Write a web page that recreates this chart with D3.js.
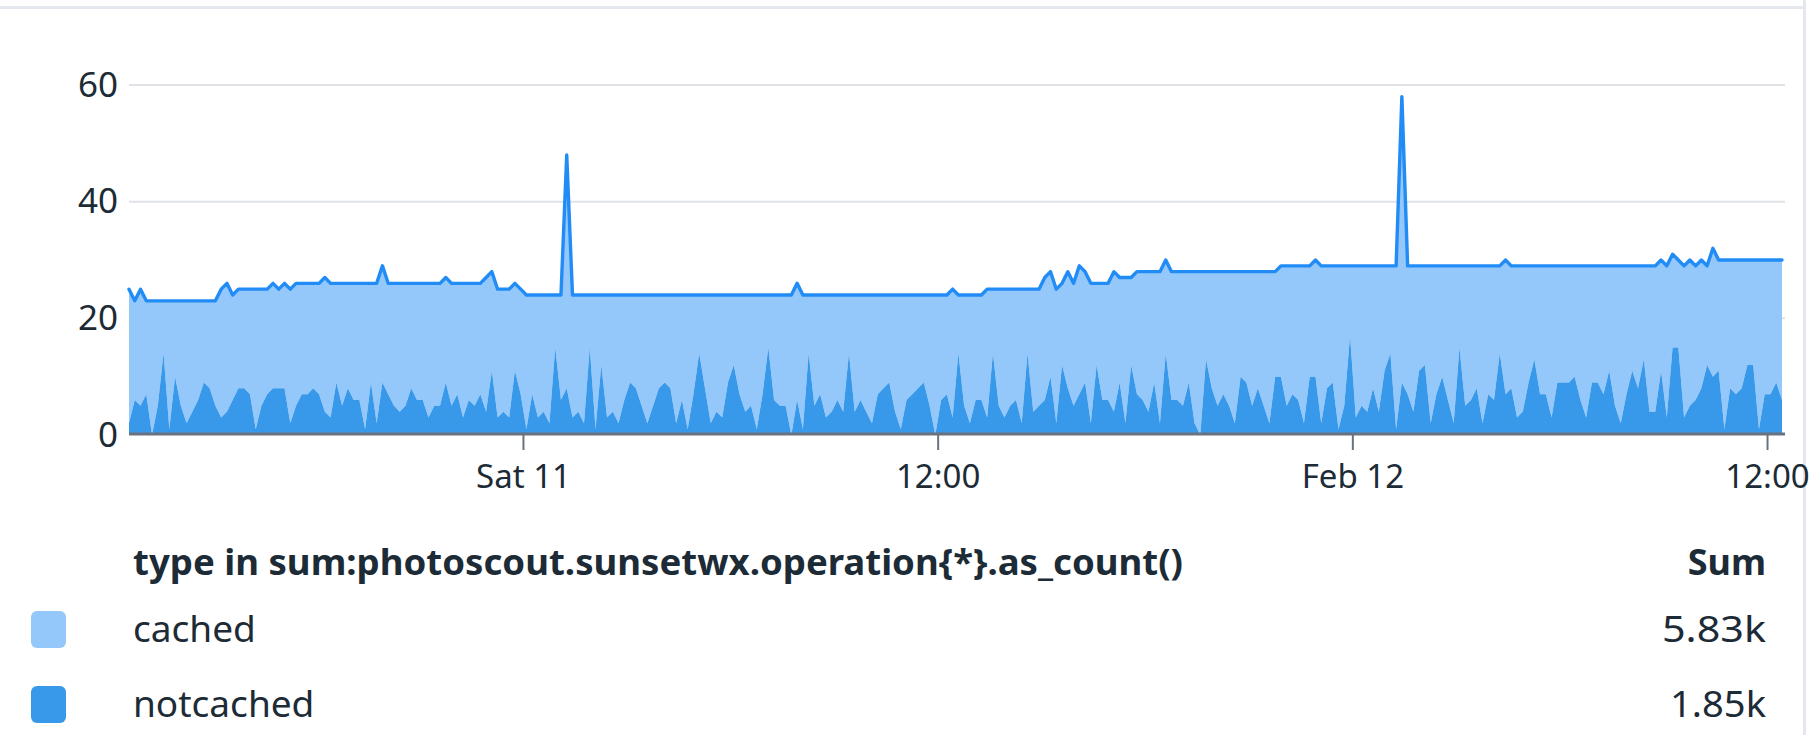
<!DOCTYPE html>
<html>
<head>
<meta charset="utf-8">
<script src="https://cdn.jsdelivr.net/npm/d3@7"></script>
<style>
  body { margin: 0; background: #fff; }
  svg { display: block; font-family: "Noto Sans", "Open Sans", sans-serif; }
</style>
</head>
<body>
<svg id="chart" width="1819" height="735"></svg>
<script>
'use strict';

/* global d3 */
// 10 minute rollups, 12:36 Fri Feb 10 -> 12:26 Sun Feb 12
var startTime = new Date(2017, 1, 10, 12, 36);
var stepMinutes = 10;

var seriesNames = ['cached', 'notcached'];
var legendSums = ['5.83k', '1.85k'];
var legendTitle = 'type in sum:photoscout.sunsetwx.operation{*}.as_count()';
var yTicks = [0, 20, 40, 60];

var cachedValues = [
    23, 17, 20, 16, 23, 18, 9, 22, 13, 18,
    21, 19, 17, 14, 15, 18, 22, 22, 18, 17,
    17, 18, 24, 20, 18, 18, 17, 18, 23, 21,
    19, 19, 18, 19, 23, 23, 17, 21, 18, 20,
    20, 25, 17, 24, 20, 19, 21, 22, 21, 18,
    20, 20, 23, 21, 21, 18, 21, 19, 23, 20,
    21, 19, 23, 17, 22, 21, 22, 15, 18, 23,
    17, 21, 20, 22, 9, 18, 40, 21, 20, 22,
    9, 23, 12, 21, 20, 22, 18, 15, 16, 19,
    22, 19, 16, 15, 16, 22, 18, 23, 17, 10,
    16, 22, 20, 21, 15, 12, 17, 20, 19, 23,
    17, 9, 18, 19, 19, 24, 20, 23, 10, 19,
    17, 21, 20, 18, 20, 10, 20, 18, 20, 22,
    17, 16, 15, 20, 23, 18, 17, 16, 15, 19,
    24, 18, 17, 22, 10, 19, 22, 18, 18, 22,
    11, 20, 22, 20, 19, 23, 11, 21, 20, 21,
    18, 23, 14, 20, 21, 22, 19, 24, 14, 20,
    20, 24, 18, 25, 15, 21, 22, 24, 19, 26,
    16, 22, 22, 23, 19, 26, 28, 15, 20, 23,
    21, 23, 26, 18, 19, 23, 20, 23, 26, 18,
    19, 24, 22, 23, 27, 19, 20, 27, 21, 20,
    28, 24, 12, 26, 24, 25, 21, 25, 18, 15,
    28, 49, 22, 25, 18, 17, 27, 22, 19, 23,
    27, 14, 24, 23, 21, 27, 22, 23, 15, 23,
    21, 26, 25, 20, 16, 22, 22, 26, 20, 20,
    20, 19, 23, 26, 20, 20, 22, 18, 24, 27,
    22, 18, 21, 16, 25, 25, 19, 26, 16, 15,
    26, 25, 23, 22, 17, 22, 19, 29, 22, 23,
    22, 18, 18, 29, 23, 23, 21, 24
];

var notcachedValues = [
    2, 6, 5, 7, 0, 5, 14, 1, 10, 5,
    2, 4, 6, 9, 8, 5, 3, 4, 6, 8,
    8, 7, 1, 5, 7, 8, 8, 8, 2, 5,
    7, 7, 8, 7, 4, 3, 9, 5, 8, 6,
    6, 1, 9, 2, 9, 7, 5, 4, 5, 8,
    6, 6, 3, 5, 5, 9, 5, 7, 3, 6,
    5, 7, 4, 11, 3, 4, 3, 11, 7, 1,
    7, 3, 4, 2, 15, 6, 8, 3, 4, 2,
    15, 1, 12, 3, 4, 2, 6, 9, 8, 5,
    2, 5, 8, 9, 8, 2, 6, 1, 7, 14,
    8, 2, 4, 3, 9, 12, 7, 4, 5, 1,
    7, 15, 6, 5, 5, 0, 6, 1, 14, 5,
    7, 3, 4, 6, 4, 14, 4, 6, 4, 2,
    7, 8, 9, 4, 1, 6, 7, 8, 9, 5,
    0, 6, 7, 3, 14, 5, 2, 6, 6, 3,
    14, 5, 3, 5, 6, 2, 14, 4, 5, 6,
    10, 2, 12, 8, 5, 7, 9, 2, 12, 6,
    6, 4, 9, 2, 12, 7, 6, 4, 9, 2,
    14, 6, 6, 5, 9, 2, 0, 13, 8, 5,
    7, 5, 2, 10, 9, 5, 8, 5, 2, 10,
    10, 5, 7, 6, 2, 10, 10, 2, 8, 9,
    1, 5, 17, 3, 5, 4, 8, 4, 11, 14,
    1, 9, 7, 4, 11, 12, 2, 7, 10, 6,
    2, 15, 5, 6, 8, 2, 7, 6, 14, 7,
    8, 3, 4, 9, 13, 7, 7, 3, 9, 9,
    9, 10, 6, 3, 9, 9, 7, 11, 5, 2,
    7, 11, 8, 13, 4, 4, 11, 3, 15, 15,
    3, 5, 6, 8, 12, 10, 11, 1, 8, 7,
    8, 12, 12, 1, 7, 7, 9, 6
];

var colors = {
    cached: '#94c8fb',
    notcached: '#3898ea',
    line: '#228cf6',
    text: '#1c2b36',
    grid: '#dfe2e6',
    axis: '#6a7280',
    frame: '#e4e8ee'
};

var svg = d3.select('#chart');
var plot = { left: 129, right: 1782, top: 85, bottom: 435, gridEnd: 1785 };

var rows = cachedValues.map(function (v, i) {
    return {
        time: d3.timeMinute.offset(startTime, i * stepMinutes),
        cached: v,
        notcached: notcachedValues[i]
    };
});

var x = d3.scaleTime()
    .domain(d3.extent(rows, function (d) { return d.time; }))
    .range([plot.left, plot.right]);

var y = d3.scaleLinear()
    .domain([0, 60])
    .range([plot.bottom, plot.top]);

// notcached sits at the bottom, cached is stacked on top of it
var stacked = d3.stack().keys(['notcached', 'cached'])(rows);

// panel edges
svg.append('rect').attr('x', 0).attr('y', 6).attr('width', 1804).attr('height', 3)
    .attr('fill', colors.frame);
svg.append('rect').attr('x', 1803).attr('y', 0).attr('width', 3).attr('height', 735)
    .attr('fill', colors.frame);

// gridlines
svg.append('g').selectAll('line')
    .data(yTicks.filter(function (t) { return t > 0; }))
    .join('line')
    .attr('x1', plot.left).attr('x2', plot.gridEnd)
    .attr('y1', function (d) { return y(d); })
    .attr('y2', function (d) { return y(d); })
    .attr('stroke', colors.grid)
    .attr('stroke-width', 2);

var area = d3.area()
    .x(function (d) { return x(d.data.time); })
    .y0(function (d) { return y(d[0]); })
    .y1(function (d) { return y(d[1]); });

svg.append('path')
    .datum(stacked[1])
    .attr('d', area)
    .attr('fill', colors.cached);

svg.append('path')
    .datum(stacked[0])
    .attr('d', area)
    .attr('fill', colors.notcached);

var topLine = d3.line()
    .x(function (d) { return x(d.data.time); })
    .y(function (d) { return y(d[1]); });

svg.append('path')
    .datum(stacked[1])
    .attr('d', topLine)
    .attr('fill', 'none')
    .attr('stroke', colors.line)
    .attr('stroke-width', 3.4)
    .attr('stroke-linejoin', 'round')
    .attr('stroke-linecap', 'round');

// y axis labels
var yAxis = svg.append('g')
    .attr('transform', 'translate(' + plot.left + ',0)')
    .call(d3.axisLeft(y).tickValues(yTicks).tickSize(0).tickPadding(11));
yAxis.select('.domain').remove();
yAxis.selectAll('text')
    .attr('fill', colors.text)
    .attr('font-size', 35)
    .attr('font-family', '"Noto Sans", sans-serif');

// x axis
var fmtDay = d3.timeFormat('%a %d');
var fmtWeek = d3.timeFormat('%b %d');
var fmtHour = d3.timeFormat('%H:%M');
function timeLabel(d) {
    if (d3.timeDay(d) < d) return fmtHour(d);
    return d3.timeWeek(d) < d ? fmtDay(d) : fmtWeek(d);
}

svg.append('line')
    .attr('x1', plot.left).attr('x2', plot.gridEnd)
    .attr('y1', 434).attr('y2', 434)
    .attr('stroke', colors.axis)
    .attr('stroke-width', 3);

var xAxis = svg.append('g')
    .attr('transform', 'translate(0,' + plot.bottom + ')')
    .call(d3.axisBottom(x)
        .ticks(d3.timeHour.every(12))
        .tickFormat(timeLabel)
        .tickSize(15));
xAxis.select('.domain').remove();
xAxis.selectAll('.tick line')
    .attr('stroke', colors.axis)
    .attr('stroke-width', 2);
xAxis.selectAll('text')
    .attr('y', 41)
    .attr('dy', '0.35em')
    .attr('fill', colors.text)
    .attr('font-size', 33)
    .attr('font-family', '"Noto Sans", sans-serif');

// legend
var legend = svg.append('g').attr('font-family', '"Noto Sans", sans-serif');

legend.append('text')
    .attr('x', 133).attr('y', 575)
    .attr('font-size', 35)
    .attr('font-weight', 'bold')
    .attr('fill', colors.text)
    .attr('textLength', 1050)
    .attr('lengthAdjust', 'spacingAndGlyphs')
    .text(legendTitle);

legend.append('text')
    .attr('x', 1766).attr('y', 575)
    .attr('text-anchor', 'end')
    .attr('font-size', 36)
    .attr('font-weight', 'bold')
    .attr('fill', colors.text)
    .text('Sum');

var legendRows = legend.selectAll('g.row')
    .data(seriesNames)
    .join('g')
    .attr('class', 'row')
    .attr('transform', function (d, i) { return 'translate(0,' + (629 + i * 75) + ')'; });

legendRows.append('rect')
    .attr('x', 31).attr('y', -18)
    .attr('width', 35).attr('height', 37)
    .attr('rx', 6)
    .attr('fill', function (d) { return colors[d]; });

legendRows.append('text')
    .attr('x', 133).attr('y', 0)
    .attr('dy', '0.35em')
    .attr('font-size', 37)
    .attr('fill', colors.text)
    .text(function (d) { return d; });

var sumWidths = [104, 96];
legendRows.append('text')
    .attr('x', 1766).attr('y', 0)
    .attr('dy', '0.35em')
    .attr('text-anchor', 'end')
    .attr('font-size', 37)
    .attr('fill', colors.text)
    .attr('textLength', function (d, i) { return sumWidths[i]; })
    .attr('lengthAdjust', 'spacingAndGlyphs')
    .text(function (d, i) { return legendSums[i]; });
</script>
</body>
</html>
